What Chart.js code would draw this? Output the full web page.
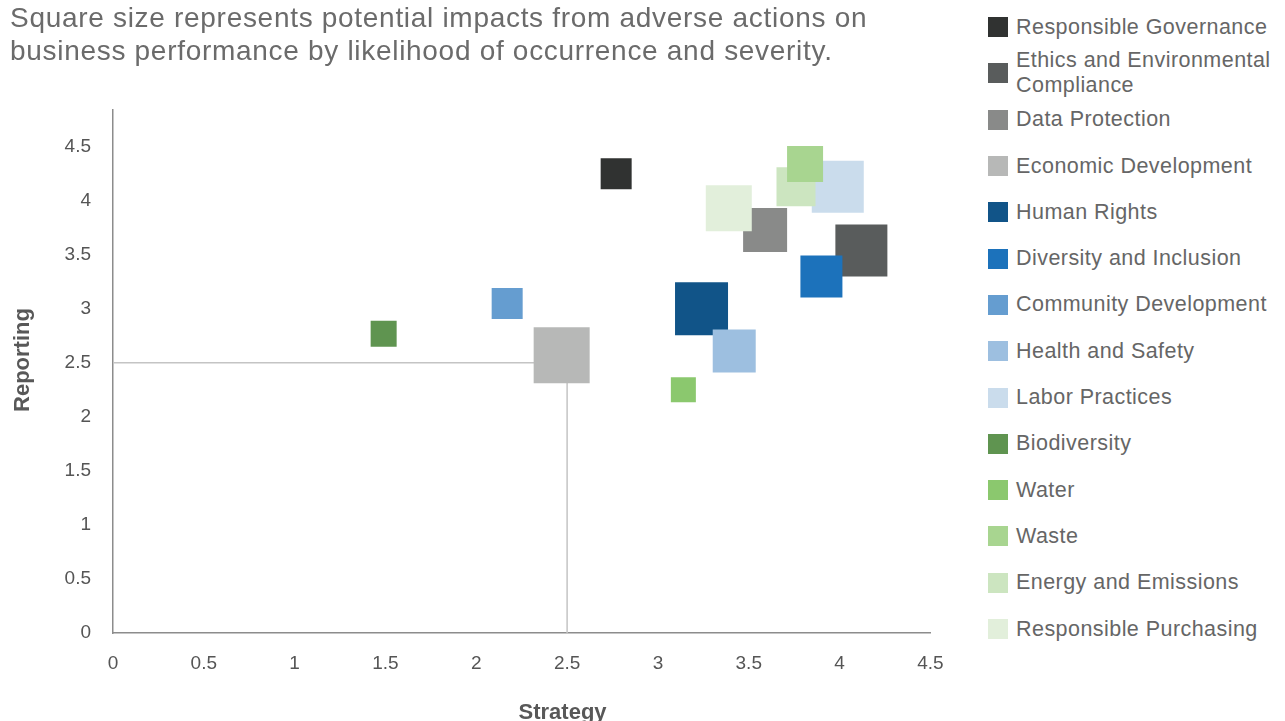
<!DOCTYPE html>
<html lang="en">
<head>
<meta charset="UTF-8">
<title>Materiality matrix</title>
<script src="https://cdn.jsdelivr.net/npm/chart.js"></script>
<style>
    body {
        margin: 0;
        width: 1285px;
        height: 721px;
        overflow: hidden;
        background: #fff;
        font-family: "Liberation Sans", Arial, sans-serif;
        position: relative;
    }
    .intro {
        position: absolute;
        left: 10px;
        top: 1px;
        font-size: 28px;
        letter-spacing: 0.7px;
        line-height: 33px;
        color: #6b6b6b;
        z-index: 2;
    }
    .chart-box {
        position: absolute;
        left: 0;
        top: 0;
        width: 970px;
        height: 721px;
    }
    #legend {
        position: absolute;
        left: 988px;
        top: 4px;
        margin: 0;
        padding: 0;
        list-style: none;
    }
    #legend li {
        height: 46.3px;
        display: flex;
        align-items: center;
        font-size: 21.5px;
        letter-spacing: 0.45px;
        line-height: 25px;
        color: #666;
        white-space: nowrap;
    }
    #legend .box {
        width: 20px;
        height: 20px;
        flex: none;
        margin-right: 8px;
    }
</style>
</head>
<body>
<div class="intro">Square size represents potential impacts from adverse actions on<br>business performance by likelihood of occurrence and severity.</div>
<div class="chart-box"><canvas id="matrix"></canvas></div>
<ul id="legend"></ul>

<script>
// categories, in legend order
const topics = ["Responsible Governance", "Ethics and Environmental Compliance", "Data Protection",
    "Economic Development", "Human Rights", "Diversity and Inclusion", "Community Development",
    "Health and Safety", "Labor Practices", "Biodiversity", "Water", "Waste",
    "Energy and Emissions", "Responsible Purchasing"];
// x = Strategy, y = Reporting
const strategy  = [2.77, 4.12, 3.59, 2.47, 3.24, 3.90, 2.17, 3.42, 3.99, 1.49, 3.14, 3.81, 3.76, 3.39];
const reporting = [4.25, 3.54, 3.73, 2.57, 3.00, 3.30, 3.05, 2.61, 4.13, 2.77, 2.25, 4.34, 4.13, 3.93];
// potential impact (square side)
const impact    = [31, 52, 44, 56, 53, 42, 31, 43, 52, 26, 25, 36, 39, 46];
const colors = ["#303231", "#595c5c", "#898a89", "#b7b8b7", "#115488", "#1c72bb", "#659dd0",
    "#9dbfe0", "#cadcec", "#5f9450", "#8bc86e", "#a8d590", "#cce5c0", "#e2efdb"];
const tickValues = [0, 0.5, 1, 1.5, 2, 2.5, 3, 3.5, 4, 4.5];
const refPoint = 2.5;

// legend (html, so the two-line entry wraps like the original)
const legend = document.getElementById("legend");
topics.forEach((t, i) => {
    const li = document.createElement("li");
    const label = t === "Ethics and Environmental Compliance" ? "Ethics and Environmental<br>Compliance" : t;
    li.innerHTML = `<span class="box" style="background:${colors[i]}"></span><span>${label}</span>`;
    legend.appendChild(li);
});

const datasets = topics.map((t, i) => ({
    label: t,
    data: [{ x: strategy[i], y: reporting[i], r: impact[i] / Math.SQRT2 }],
    backgroundColor: colors[i],
    borderWidth: 0,
    pointStyle: "rect",
    hoverRadius: 0,
    // later topics sit on top, waste above energy
    order: t === "Waste" ? -99 : -i
}));

const refLines = {
    id: "refLines",
    beforeDatasetsDraw(chart) {
        const { ctx, scales: { x, y } } = chart;
        const px = x.getPixelForValue(refPoint);
        const py = y.getPixelForValue(refPoint);
        ctx.save();
        ctx.strokeStyle = "#c4c4c4";
        ctx.lineWidth = 1.5;
        ctx.beginPath();
        ctx.moveTo(x.left, py);
        ctx.lineTo(px, py);
        ctx.moveTo(px, y.bottom);
        ctx.lineTo(px, py);
        ctx.stroke();
        ctx.restore();
    }
};

const axisTitles = {
    id: "axisTitles",
    afterDraw(chart) {
        const { ctx, chartArea } = chart;
        ctx.save();
        ctx.fillStyle = "#585858";
        ctx.font = "bold 22px 'Liberation Sans', Arial, sans-serif";
        ctx.textAlign = "center";
        ctx.textBaseline = "alphabetic";
        ctx.fillText("Strategy", chartArea.left + chartArea.width * 0.55, 719);
        ctx.translate(29, 360);
        ctx.rotate(-Math.PI / 2);
        ctx.fillText("Reporting", 0, 0);
        ctx.restore();
    }
};

const keepTicks = (scale) => {
    scale.ticks = tickValues.map(v => ({ value: v }));
};
const tickFont = { size: 19, family: "'Liberation Sans', Arial, sans-serif" };

new Chart(document.getElementById("matrix"), {
    type: "bubble",
    data: { datasets },
    plugins: [refLines, axisTitles],
    options: {
        responsive: true,
        maintainAspectRatio: false,
        animation: false,
        events: [],
        layout: { padding: { top: 110, right: 0, left: 0, bottom: 0 } },
        plugins: {
            legend: { display: false },
            tooltip: { enabled: false }
        },
        scales: {
            x: {
                type: "linear",
                min: 0,
                max: 4.5,
                afterBuildTicks: keepTicks,
                afterFit: (s) => { s.height = 88; },
                grid: { display: false, drawTicks: false },
                border: { display: true, color: "#8c8c8c", width: 1.5 },
                ticks: { color: "#555", padding: 19, font: tickFont, callback: (v) => String(v) }
            },
            y: {
                type: "linear",
                min: 0,
                max: 4.84,
                afterBuildTicks: keepTicks,
                afterFit: (s) => { s.width = 113; },
                grid: { display: false, drawTicks: false },
                border: { display: true, color: "#8c8c8c", width: 1.5 },
                ticks: { color: "#555", padding: 22, font: tickFont, callback: (v) => String(v) }
            }
        }
    }
});
</script>
</body>
</html>
